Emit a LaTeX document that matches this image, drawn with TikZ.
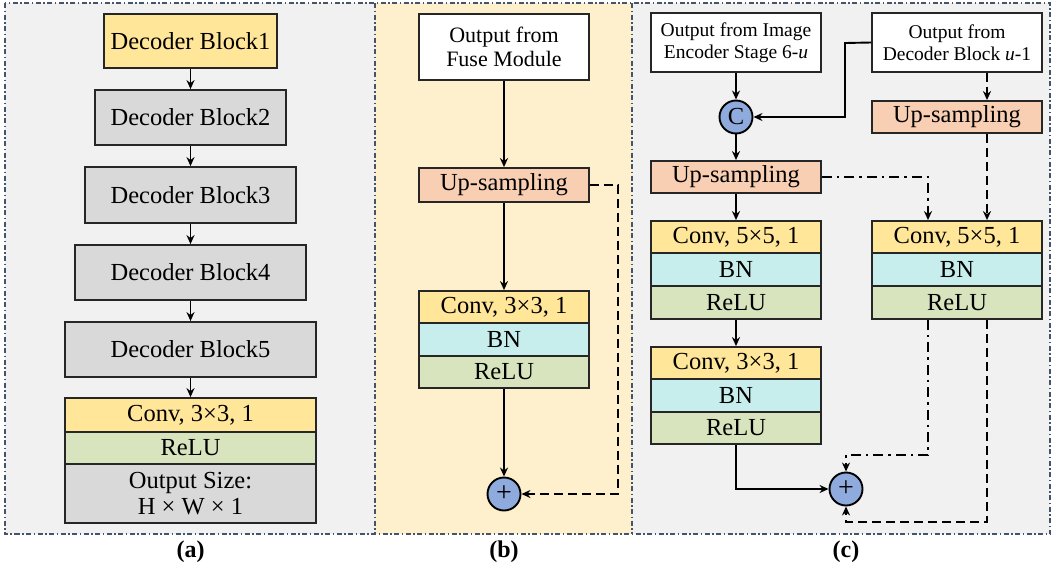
\documentclass[tikz,border=0pt]{standalone}
\usepackage{fontspec}
\setmainfont{Liberation Serif}
\usetikzlibrary{arrows.meta,calc}
\definecolor{ylw}{HTML}{FFE699}
\definecolor{gry}{HTML}{D9D9D9}
\definecolor{bnc}{HTML}{C7EDEC}
\definecolor{rlc}{HTML}{D7E4BD}
\definecolor{upc}{HTML}{F8CFB3}
\definecolor{bgg}{HTML}{F1F1F1}
\definecolor{bgy}{HTML}{FFF0CD}
\definecolor{frm}{HTML}{44546A}
\definecolor{blu}{HTML}{8FAADC}
\definecolor{edg}{HTML}{262626}
\tikzset{
  box/.style={draw=edg, line width=1.8pt, inner sep=0pt, align=center, text=black},
  circ/.style={circle, draw=black, line width=1.9pt, fill=blu, minimum size=33pt, inner sep=0pt},
  arr/.style={line width=1.9pt, -{Stealth[length=9pt,width=8pt]}},
  dsh/.style={dash pattern=on 9pt off 5pt},
  dshdot/.style={dash pattern=on 10pt off 5pt on 2.5pt off 5pt},
  frame/.style={draw=frm, line width=1.3pt, dash pattern=on 5pt off 2.5pt on 1.5pt off 2.5pt},
  fA/.style={font=\fontsize{24.5}{28}\selectfont},
  fB/.style={font=\fontsize{22}{26}\selectfont},
  fC/.style={font=\fontsize{19.5}{24}\selectfont},
  lab/.style={font=\fontsize{24}{28}\selectfont\bfseries}
}
\begin{document}
\begin{tikzpicture}[x=1pt,y=-1pt]
\useasboundingbox (0,0) rectangle (1052,570);
% panel backgrounds
\fill[bgg] (5,3) rectangle (375,534);
\fill[bgy] (375,3) rectangle (632,534);
\fill[bgg] (632,3) rectangle (1050,534);
\draw[frame] (5,3) rectangle (1050,534);
\draw[frame] (375,3) -- (375,534);
\draw[frame] (632,3) -- (632,534);

% ---------- panel (a)
\node[box, fA, fill=ylw, minimum width=173pt, minimum height=54pt] (db1) at (190.5,41) {Decoder Block1};
\node[box, fA, fill=gry, minimum width=191pt, minimum height=55pt] (db2) at (190.5,117.5) {Decoder Block2};
\node[box, fA, fill=gry, minimum width=211pt, minimum height=56pt] (db3) at (190.5,195) {Decoder Block3};
\node[box, fA, fill=gry, minimum width=231pt, minimum height=55pt] (db4) at (190.5,272.5) {Decoder Block4};
\node[box, fA, fill=gry, minimum width=251pt, minimum height=55pt] (db5) at (190.5,349.5) {Decoder Block5};
\node[box, fA, fill=ylw, minimum width=251pt, minimum height=34pt] (convA) at (190.5,415) {Conv, 3×3, 1};
\node[box, fA, fill=rlc, minimum width=251pt, minimum height=32pt] (reluA) at (190.5,448) {ReLU};
\node[box, fA, fill=gry, minimum width=251pt, minimum height=59pt] (outA) at (190.5,493.5) {Output Size:\\[-2pt]H × W × 1};
\draw[arr] (db1) -- (db2);
\draw[arr] (db2) -- (db3);
\draw[arr] (db3) -- (db4);
\draw[arr] (db4) -- (db5);
\draw[arr] (db5) -- (convA);
\node[lab] (la) at (190.5,552) {(a)};

% ---------- panel (b)
\node[box, fB, fill=white, minimum width=170pt, minimum height=66pt] (fuse) at (504,47) {Output from\\[-2pt]Fuse Module};
\node[box, fA, fill=upc, minimum width=170pt, minimum height=34pt] (upB) at (504,185) {Up-sampling};
\node[box, fA, fill=ylw, minimum width=170pt, minimum height=32pt] (convB) at (504,307) {Conv, 3×3, 1};
\node[box, fA, fill=bnc, minimum width=170pt, minimum height=33pt] (bnB) at (504,339.5) {BN};
\node[box, fA, fill=rlc, minimum width=170pt, minimum height=32pt] (reluB) at (504,372) {ReLU};
\node[circ, font=\fontsize{28}{28}\selectfont] (plusB) at (504,494) {+};
\coordinate (kb) at (618,185);
\draw[arr] (fuse) -- (upB);
\draw[arr] (upB) -- (convB);
\draw[arr] (reluB) -- (plusB);
\draw[arr, dsh] (upB.east) -- (kb) |- (plusB.east);
\node[lab] (lb) at (504,552) {(b)};

% ---------- panel (c)
\node[box, fC, fill=white, minimum width=170pt, minimum height=59pt] (enc) at (736,42.5) {Output from Image\\[-2pt]Encoder Stage 6-\textit{u}};
\node[box, fC, fill=white, minimum width=170pt, minimum height=59pt] (dec) at (957,42.5) {Output from\\[-2pt]Decoder Block \textit{u}-1};
\node[circ, fA] (cc) at (736,117) {C};
\node[box, fA, fill=upc, minimum width=170pt, minimum height=32pt] (upR) at (957,117) {Up-sampling};
\node[box, fA, fill=upc, minimum width=170pt, minimum height=32pt] (upL) at (736,177) {Up-sampling};
\node[box, fA, fill=ylw, minimum width=170pt, minimum height=32pt] (convL1) at (736,237) {Conv, 5×5, 1};
\node[box, fA, fill=bnc, minimum width=170pt, minimum height=33pt] (bnL1) at (736,269.5) {BN};
\node[box, fA, fill=rlc, minimum width=170pt, minimum height=33pt] (reluL1) at (736,302.5) {ReLU};
\node[box, fA, fill=ylw, minimum width=170pt, minimum height=32pt] (convR) at (957,237) {Conv, 5×5, 1};
\node[box, fA, fill=bnc, minimum width=170pt, minimum height=33pt] (bnR) at (957,269.5) {BN};
\node[box, fA, fill=rlc, minimum width=170pt, minimum height=33pt] (reluR) at (957,302.5) {ReLU};
\node[box, fA, fill=ylw, minimum width=170pt, minimum height=32pt] (convL2) at (736,363) {Conv, 3×3, 1};
\node[box, fA, fill=bnc, minimum width=170pt, minimum height=33pt] (bnL2) at (736,395.5) {BN};
\node[box, fA, fill=rlc, minimum width=170pt, minimum height=32pt] (reluL2) at (736,428) {ReLU};
\node[circ, font=\fontsize{28}{28}\selectfont] (plusC) at (846,489) {+};
\coordinate (k1) at (845,43);
\coordinate (j1) at (928,455);
\coordinate (j2) at (987,522);
\draw[arr] (enc) -- (cc);
\draw[arr] (dec.west) -- (k1) |- (cc.east);
\draw[arr] (cc) -- (upL);
\draw[arr] (upL) -- (convL1);
\draw[arr] (reluL1) -- (convL2);
\draw[arr, dsh] ([xshift=30pt]dec.south) -- ([xshift=30pt]upR.north);
\draw[arr, dsh] ([xshift=30pt]upR.south) -- ([xshift=30pt]convR.north);
\draw[arr, dshdot] (upL.east) -| ([xshift=-29pt]convR.north);
\draw[arr] (reluL2.south) |- (plusC.west);
\draw[arr, dshdot] ([xshift=-29pt]reluR.south) -- (j1) -| (plusC.north);
\draw[arr, dsh] ([xshift=30pt]reluR.south) -- (j2) -| (plusC.south);
\node[lab] (lc) at (846,552) {(c)};
\end{tikzpicture}
\end{document}
